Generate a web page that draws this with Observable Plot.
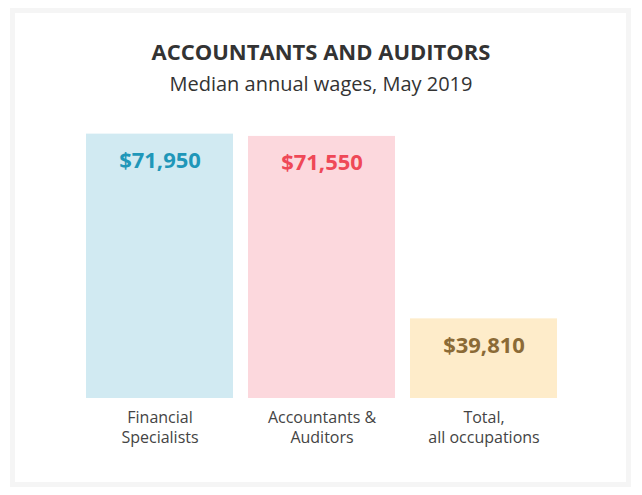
<!DOCTYPE html>
<html>
<head>
<meta charset="utf-8">
<script src="https://cdn.jsdelivr.net/npm/d3@7"></script>
<script src="https://cdn.jsdelivr.net/npm/@observablehq/plot@0.6"></script>
<style>
  html, body { margin: 0; padding: 0; background: #fff; }
  body { width: 642px; height: 495px; position: relative; overflow: hidden; font-family: "Open Sans", sans-serif; }
  #frame { position: absolute; left: 10px; top: 8px; width: 621px; height: 479px; box-sizing: border-box; border: 5px solid #f5f5f5; }
  #title { position: absolute; left: 0; width: 642px; top: 38px; text-align: center; font-size: 22px; line-height: 26px; font-weight: 700; color: #333; }
  #subtitle { position: absolute; left: 0; width: 642px; top: 72px; text-align: center; font-size: 20px; line-height: 24px; font-weight: 400; color: #333; }
  #chart { position: absolute; left: 0; top: 100px; }
</style>
</head>
<body>
<div id="frame"></div>
<div id="title">ACCOUNTANTS AND AUDITORS</div>
<div id="subtitle">Median annual wages, May 2019</div>
<div id="chart"></div>
<script>
const categories = ["Financial\nSpecialists", "Accountants &\nAuditors", "Total,\nall occupations"];
const wages = [71950, 71550, 39810];
const barColors = ["#d1eaf2", "#fcd8dd", "#feecca"];
const labelColors = ["#1f97b9", "#ef4857", "#8b6a36"];

const data = categories.map((c, i) => ({category: c, wage: wages[i]}));
const fmt = d3.format("$,");

const chart = Plot.plot({
  width: 642,
  height: 360,
  marginLeft: 86,
  marginRight: 85,
  marginTop: 20,
  marginBottom: 62,
  style: {fontFamily: "Open Sans", background: "transparent"},
  x: {type: "band", domain: categories, paddingInner: 0.0926, paddingOuter: 0, axis: null},
  y: {domain: [25955, 74320], clamp: true, axis: null},
  color: {type: "identity"},
  marks: [
    Plot.barY(data, {x: "category", y: "wage", fill: (d, i) => barColors[i]}),
    Plot.text(data, {
      x: "category", y: "wage", text: d => fmt(d.wage),
      fill: (d, i) => labelColors[i], fontSize: 22, fontWeight: "bold",
      lineAnchor: "middle", dy: 27
    }),
    Plot.text(data, {
      x: "category", text: "category", frameAnchor: "bottom",
      lineAnchor: "top", dy: 10, fontSize: 16, lineHeight: 1.25, fill: "#444"
    })
  ]
});
document.getElementById("chart").appendChild(chart);
</script>
</body>
</html>
